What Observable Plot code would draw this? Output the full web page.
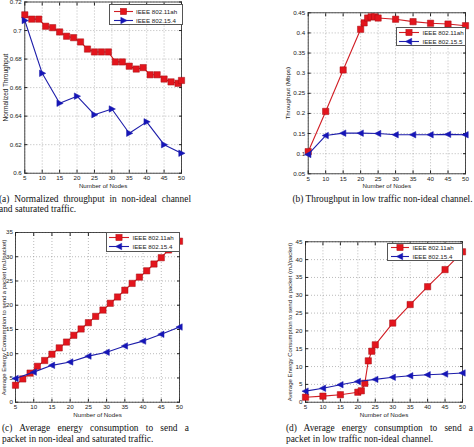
<!DOCTYPE html>
<html><head><meta charset="utf-8">
<script src="https://cdn.jsdelivr.net/npm/d3@7"></script>
<script src="https://cdn.jsdelivr.net/npm/@observablehq/plot@0.6"></script>
<style>
body{margin:0;background:#fff;}
#root{position:relative;width:474px;height:447px;overflow:hidden;background:#fff;}
.panel{position:absolute;}
.cap{position:absolute;font-family:"Liberation Serif","DejaVu Serif",serif;font-size:9.4px;line-height:10.5px;color:#111;white-space:nowrap;}
.cap .j{text-align:justify;text-align-last:justify;white-space:normal;}
.legend{position:absolute;border:1px solid #555;background:#fff;font-family:"Liberation Sans",Arial,sans-serif;font-size:6.2px;color:#222;box-sizing:border-box;}
.legend .row{position:absolute;height:9px;}
.legend span{position:absolute;white-space:nowrap;line-height:9px;}
</style></head>
<body><div id="root"></div>
<script>
// ---------- data ----------
const xTicks = [5,10,15,20,25,30,35,40,45,50];
const xLabel = "Number of Nodes";
const seriesNames = ["IEEE 802.11ah", "IEEE 802.15.4"];
const seriesNamesB = ["IEEE 802.11ah", "IEEE 802.15.5"];

// (a)
const xA_red = [5,7,9,11,13,15,17,19,21,23,25,27,29,31,33,35,37,39,41,43,45,47,49,50];
const yA_red = [0.711,0.708,0.708,0.703,0.702,0.699,0.696,0.695,0.692,0.687,0.685,0.685,0.685,0.678,0.678,0.675,0.673,0.674,0.669,0.669,0.666,0.664,0.663,0.665];
const xA_blue = [5,10,15,20,25,30,35,40,45,50];
const yA_blue = [0.707,0.670,0.649,0.654,0.641,0.645,0.628,0.636,0.620,0.614];
const yTicksA = [0.6,0.62,0.64,0.66,0.68,0.7,0.72];
const yLabelsA = ["0.6","0.62","0.64","0.66","0.68","0.7","0.72"];

// (b)
const xB_red = [5,10,15,20,21,22,23,24,25,30,35,40,45,50];
const yB_red = [0.105,0.205,0.308,0.409,0.425,0.437,0.440,0.440,0.437,0.434,0.428,0.424,0.422,0.418];
const xB_blue = [5,10,15,20,25,30,35,40,45,50];
const yB_blue = [0.098,0.145,0.151,0.151,0.150,0.147,0.147,0.147,0.148,0.147];
const yTicksB = [0.05,0.1,0.15,0.2,0.25,0.3,0.35,0.4,0.45];
const yLabelsB = ["0.05","0.1","0.15","0.2","0.25","0.3","0.35","0.4","0.45"];

// (c)
const xC_red = [5,7,9,11,13,15,17,19,21,23,25,27,29,31,33,35,37,39,41,43,45,47,49,50];
const yC_red = [3.5,4.8,6.0,7.4,8.6,9.9,11.2,12.4,13.8,15.1,16.4,17.7,19.0,20.4,21.7,23.1,24.5,25.8,27.1,28.5,29.8,31.4,32.4,33.2];
const xC_blue = [5,10,15,20,25,30,35,40,45,50];
const yC_blue = [4.9,6.2,7.6,8.3,9.5,10.3,11.6,12.6,14.0,15.5];
const yTicksC = [0,5,10,15,20,25,30,35];
const yLabelsC = ["0","5","10","15","20","25","30","35"];

// (d)
const xD_red = [5,10,15,20,21,22,23,24,25,30,35,40,45,50];
const yD_red = [1.4,1.7,2.1,2.8,3.2,5.3,11.6,14.3,16.1,22.2,27.4,32.4,37.2,42.2];
const xD_blue = [5,10,15,20,25,30,35,40,45,50];
const yD_blue = [3.1,3.9,4.9,5.8,6.4,7.0,7.4,7.7,7.9,8.2];
const yTicksD = [0,5,10,15,20,25,30,35,40,45];
const yLabelsD = ["0","5","10","15","20","25","30","35","40","45"];

const yTitleA = "Normalized Throughput";
const yTitleB = "Throughput (Mbps)";
const yTitleCD = "Average Energy Consumption to send a packet (mJ/packet)";

const captions = {
  a: ["(a) Normalized throughput in non-ideal channel", "and saturated traffic."],
  b: ["(b) Throughput in low traffic non-ideal channel."],
  c: ["(c) Average energy consumption to send a", "packet in non-ideal and saturated traffic."],
  d: ["(d) Average energy consumption to send a", "packet in low traffic non-ideal channel."]
};

// ---------- styles ----------
const RED = "#d11d24", RED_FILL = "#e3151d", RED_EDGE = "#a50e12";
const BLUE = "#1d1daa", BLUE_FILL = "#1515b8";

const squareSym = {draw(c, s){ const r = Math.sqrt(s/Math.PI)*0.9; c.rect(-r,-r,2*r,2*r); }};
const triRight = {draw(c, s){ const r = Math.sqrt(s/Math.PI); c.moveTo(r*1.05,0); c.lineTo(-r*0.8,-r*0.95); c.lineTo(-r*0.8,r*0.95); c.closePath(); }};
const triLeft = {draw(c, s){ const r = Math.sqrt(s/Math.PI); c.moveTo(-r*1.05,0); c.lineTo(r*0.8,-r*0.95); c.lineTo(r*0.8,r*0.95); c.closePath(); }};

const root = document.getElementById("root");

function drawPanel(cfg){
  const {left, top, width, height, fx0, fx1, fy0, fy1} = cfg;
  const grid = {stroke:"#8c8c8c", strokeOpacity:1, strokeWidth:0.6, strokeDasharray:"1,2"};
  const fmtY = d => cfg.yLabels[cfg.yTicks.indexOf(d)];
  const svg = Plot.plot({
    width, height,
    marginLeft: fx0-left, marginRight: left+width-fx1,
    marginTop: fy0-top, marginBottom: top+height-fy1,
    style:{fontFamily:'"Liberation Sans", Arial, sans-serif', fontSize:"6.2px", background:"transparent", color:"#222", overflow:"visible"},
    x:{domain:[5,50]},
    y:{domain:cfg.yDomain},
    marks:[
      Plot.gridX(xTicks, grid),
      Plot.gridY(cfg.yTicks, grid),
      Plot.axisX(xTicks, {anchor:"bottom", tickSize:-3, tickPadding:5.5, tickFormat:d=>String(d), label:null}),
      Plot.axisX(xTicks, {anchor:"top", tickSize:-3, tickFormat:()=>"", label:null}),
      Plot.axisY(cfg.yTicks, {anchor:"left", tickSize:-3, tickPadding:cfg.yPad ?? 6, tickFormat:fmtY, label:null}),
      Plot.axisY(cfg.yTicks, {anchor:"right", tickSize:-3, tickFormat:()=>"", label:null}),
      Plot.frame({stroke:"#222", strokeWidth:0.8}),
      Plot.text([cfg.yTitle], {frameAnchor:"left", rotate:-90, dx:cfg.yTitleDx, text:d=>d, fontSize:cfg.yTitleSize, textAnchor:"middle", lineAnchor:"middle"}),
      Plot.text([xLabel], {frameAnchor:"bottom", dy:cfg.xTitleDy, text:d=>d, textAnchor:"middle", lineAnchor:"middle"}),
      Plot.line(cfg.xr, {x:cfg.xr, y:cfg.yr, stroke:RED, strokeWidth:1.1}),
      Plot.dot(cfg.xr, {x:cfg.xr, y:cfg.yr, symbol:squareSym, r:3.5, fill:RED_FILL, stroke:RED_EDGE, strokeWidth:0.5}),
      Plot.line(cfg.xb, {x:cfg.xb, y:cfg.yb, stroke:BLUE, strokeWidth:1.1}),
      Plot.dot(cfg.xb, {x:cfg.xb, y:cfg.yb, symbol:cfg.blueSym, r:3.4, fill:BLUE_FILL, stroke:BLUE, strokeWidth:0.5})
    ]
  });
  const wrap = document.createElement("div");
  wrap.className = "panel";
  wrap.style.left = left + "px";
  wrap.style.top = top + "px";
  wrap.appendChild(svg);
  root.appendChild(wrap);
}

function markerPath(kind){
  if (kind === "square") return `<rect x="-3.1" y="-3.1" width="6.2" height="6.2" fill="${RED_FILL}" stroke="${RED_EDGE}" stroke-width="0.5"/>`;
  if (kind === "right") return `<path d="M3.6,0L-2.7,-3.2L-2.7,3.2Z" fill="${BLUE_FILL}" stroke="${BLUE}" stroke-width="0.5"/>`;
  return `<path d="M-3.6,0L2.7,-3.2L2.7,3.2Z" fill="${BLUE_FILL}" stroke="${BLUE}" stroke-width="0.5"/>`;
}

function drawLegend(cfg){
  const box = document.createElement("div");
  box.className = "legend";
  Object.assign(box.style, {left:cfg.left+"px", top:cfg.top+"px", width:cfg.width+"px", height:cfg.height+"px"});
  cfg.items.forEach((it, i) => {
    const cy = cfg.rows[i];
    const sw = cfg.sampleW;
    const row = document.createElement("div");
    row.className = "row";
    row.style.left = "0px"; row.style.top = (cy-4.5-1) + "px"; row.style.width = "100%";
    row.innerHTML = `<svg style="position:absolute;left:${cfg.sampleX}px;top:0" width="${sw}" height="9">
      <line x1="0" x2="${sw}" y1="4.5" y2="4.5" stroke="${it.color}" stroke-width="1.1"/>
      <g transform="translate(${sw/2},4.5)">${markerPath(it.marker)}</g></svg>
      <span style="left:${cfg.textX}px;top:0">${it.label}</span>`;
    box.appendChild(row);
  });
  root.appendChild(box);
}

function drawCaption(lines, left, top, width, justify, center){
  const d = document.createElement("div");
  d.className = "cap";
  Object.assign(d.style, {left:left+"px", top:top+"px", width:width+"px"});
  lines.forEach((t, i) => {
    const l = document.createElement("div");
    l.textContent = t;
    if (justify && i === 0) l.className = "j";
    if (center) l.style.textAlign = "center";
    d.appendChild(l);
  });
  root.appendChild(d);
}

// ---------- panels ----------
drawPanel({left:0, top:0, width:237, height:195, fx0:24.3, fx1:181, fy0:1.5, fy1:172.7,
  yDomain:[0.6,0.72], yTicks:yTicksA, yLabels:yLabelsA, yTitle:yTitleA, yTitleDx:-19, yTitleSize:6.5, xTitleDy:13,
  xr:xA_red, yr:yA_red, xb:xA_blue, yb:yA_blue, blueSym:triRight});
drawPanel({left:237, top:0, width:237, height:195, fx0:307.7, fx1:465, fy0:12.3, fy1:173.3,
  yDomain:[0.05,0.45], yTicks:yTicksB, yLabels:yLabelsB, yTitle:yTitleB, yTitleDx:-20, yTitleSize:6.2, xTitleDy:12.5,
  xr:xB_red, yr:yB_red, xb:xB_blue, yb:yB_blue, blueSym:triLeft});
drawPanel({left:0, top:225, width:237, height:195, fx0:15, fx1:179, fy0:232, fy1:401.7,
  yDomain:[0,35], yTicks:yTicksC, yLabels:yLabelsC, yTitle:yTitleCD, yTitleDx:-11, yTitleSize:5.9, xTitleDy:13, yPad:5.5,
  xr:xC_red, yr:yC_red, xb:xC_blue, yb:yC_blue, blueSym:triLeft});
drawPanel({left:237, top:225, width:237, height:195, fx0:305, fx1:462, fy0:241.3, fy1:401.7,
  yDomain:[0,45], yTicks:yTicksD, yLabels:yLabelsD, yTitle:yTitleCD, yTitleDx:-15, yTitleSize:6, xTitleDy:13,
  xr:xD_red, yr:yD_red, xb:xD_blue, yb:yD_blue, blueSym:triLeft});

// ---------- legends ----------
drawLegend({left:109, top:4, width:74, height:21, rows:[7,16], sampleX:4, sampleW:19, textX:26,
  items:[{label:seriesNames[0], color:RED, marker:"square"},{label:seriesNames[1], color:BLUE, marker:"right"}]});
drawLegend({left:396, top:27, width:70, height:19, rows:[5,14], sampleX:1.5, sampleW:20, textX:25.5,
  items:[{label:seriesNamesB[0], color:RED, marker:"square"},{label:seriesNamesB[1], color:BLUE, marker:"left"}]});
drawLegend({left:106, top:232, width:73.5, height:19.5, rows:[5,14.5], sampleX:2, sampleW:20, textX:25.5,
  items:[{label:seriesNames[0], color:RED, marker:"square"},{label:seriesNames[1], color:BLUE, marker:"left"}]});
drawLegend({left:387, top:242.7, width:76, height:18.8, rows:[4.8,14], sampleX:3, sampleW:18, textX:24.5,
  items:[{label:seriesNames[0], color:RED, marker:"square"},{label:seriesNames[1], color:BLUE, marker:"left"}]});

// ---------- captions ----------
drawCaption(captions.a, -1, 193.5, 192, true, false);
drawCaption(captions.b, 289, 193.5, 187, false, true);
drawCaption(captions.c, 2, 423, 187, true, false);
drawCaption(captions.d, 286, 423, 187, true, false);
</script>
</body></html>
